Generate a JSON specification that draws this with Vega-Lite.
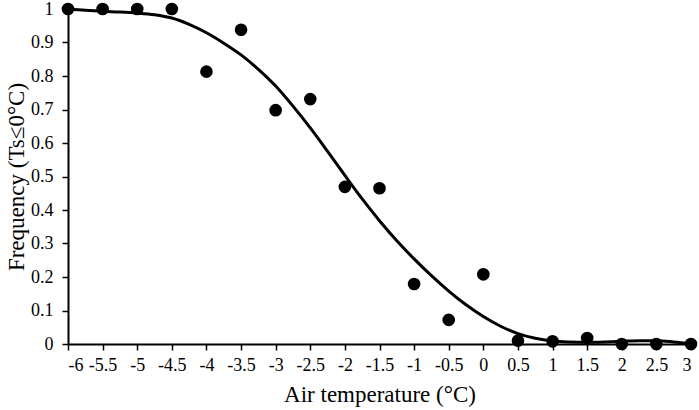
{
  "$schema": "https://vega.github.io/schema/vega-lite/v6.json",
  "autosize": {"type": "none"},
  "width": 623,
  "height": 335,
  "padding": {"left": 68, "top": 9, "right": 8, "bottom": 66},
  "background": "white",
  "config": {
    "view": {"stroke": null},
    "font": "Liberation Serif",
    "axis": {
      "grid": false,
      "domainColor": "black",
      "domainWidth": 2,
      "tickColor": "black",
      "tickWidth": 1.5,
      "tickSize": 6,
      "labelFont": "Liberation Serif",
      "labelFontSize": 18,
      "labelColor": "black",
      "titleFont": "Liberation Serif",
      "titleFontSize": 23,
      "titleFontWeight": "normal",
      "titleColor": "black"
    }
  },
  "datasets": {
    "observed": [
      {"temp": -6, "freq": 1.0},
      {"temp": -5.5, "freq": 1.0},
      {"temp": -5, "freq": 1.0},
      {"temp": -4.5, "freq": 1.0},
      {"temp": -4, "freq": 0.813},
      {"temp": -3.5, "freq": 0.938},
      {"temp": -3, "freq": 0.698},
      {"temp": -2.5, "freq": 0.731},
      {"temp": -2, "freq": 0.469},
      {"temp": -1.5, "freq": 0.465},
      {"temp": -1, "freq": 0.179},
      {"temp": -0.5, "freq": 0.072},
      {"temp": 0, "freq": 0.208},
      {"temp": 0.5, "freq": 0.01},
      {"temp": 1, "freq": 0.008},
      {"temp": 1.5, "freq": 0.018},
      {"temp": 2, "freq": 0.0},
      {"temp": 2.5, "freq": 0.0},
      {"temp": 3, "freq": 0.0}
    ],
    "fitted": [
      {"temp": -6, "freq": 1.0},
      {"temp": -5.75, "freq": 0.996},
      {"temp": -5.5, "freq": 0.993},
      {"temp": -5.25, "freq": 0.991},
      {"temp": -5, "freq": 0.988},
      {"temp": -4.75, "freq": 0.983},
      {"temp": -4.5, "freq": 0.973},
      {"temp": -4.25, "freq": 0.954},
      {"temp": -4, "freq": 0.929},
      {"temp": -3.75, "freq": 0.898},
      {"temp": -3.5, "freq": 0.863},
      {"temp": -3.25, "freq": 0.82},
      {"temp": -3, "freq": 0.77},
      {"temp": -2.75, "freq": 0.71},
      {"temp": -2.5, "freq": 0.645},
      {"temp": -2.25, "freq": 0.575},
      {"temp": -2, "freq": 0.503},
      {"temp": -1.75, "freq": 0.433},
      {"temp": -1.5, "freq": 0.368},
      {"temp": -1.25, "freq": 0.308},
      {"temp": -1, "freq": 0.254},
      {"temp": -0.75, "freq": 0.204},
      {"temp": -0.5, "freq": 0.158},
      {"temp": -0.25, "freq": 0.117},
      {"temp": 0, "freq": 0.082},
      {"temp": 0.25, "freq": 0.053},
      {"temp": 0.5, "freq": 0.031},
      {"temp": 0.75, "freq": 0.017},
      {"temp": 1, "freq": 0.009},
      {"temp": 1.25, "freq": 0.006},
      {"temp": 1.5, "freq": 0.005},
      {"temp": 1.75, "freq": 0.006},
      {"temp": 2, "freq": 0.008},
      {"temp": 2.25, "freq": 0.01},
      {"temp": 2.5, "freq": 0.01},
      {"temp": 2.75, "freq": 0.006},
      {"temp": 3, "freq": 0.0}
    ]
  },
  "encoding": {
    "x": {
      "field": "temp",
      "type": "quantitative",
      "title": "Air temperature (°C)",
      "scale": {"domain": [-6, 3], "nice": false, "zero": false},
      "axis": {
        "values": [-6, -5.5, -5, -4.5, -4, -3.5, -3, -2.5, -2, -1.5, -1, -0.5, 0, 0.5, 1, 1.5, 2, 2.5, 3],
        "labelExpr": "'' + datum.value",
        "labelPadding": 6,
        "titlePadding": 9,
        "labelOverlap": false
      }
    },
    "y": {
      "field": "freq",
      "type": "quantitative",
      "title": "Frequency (Ts≤0°C)",
      "scale": {"domain": [0, 1], "nice": false},
      "axis": {
        "values": [0, 0.1, 0.2, 0.3, 0.4, 0.5, 0.6, 0.7, 0.8, 0.9, 1],
        "labelExpr": "'' + datum.value",
        "labelPadding": 9,
        "titlePadding": 2,
        "labelOverlap": false
      }
    }
  },
  "layer": [
    {
      "data": {"name": "fitted"},
      "mark": {"type": "line", "color": "black", "strokeWidth": 3, "interpolate": "monotone", "clip": false}
    },
    {
      "data": {"name": "observed"},
      "mark": {"type": "point", "filled": true, "shape": "circle", "color": "black", "size": 160, "opacity": 1, "clip": false}
    }
  ]
}
